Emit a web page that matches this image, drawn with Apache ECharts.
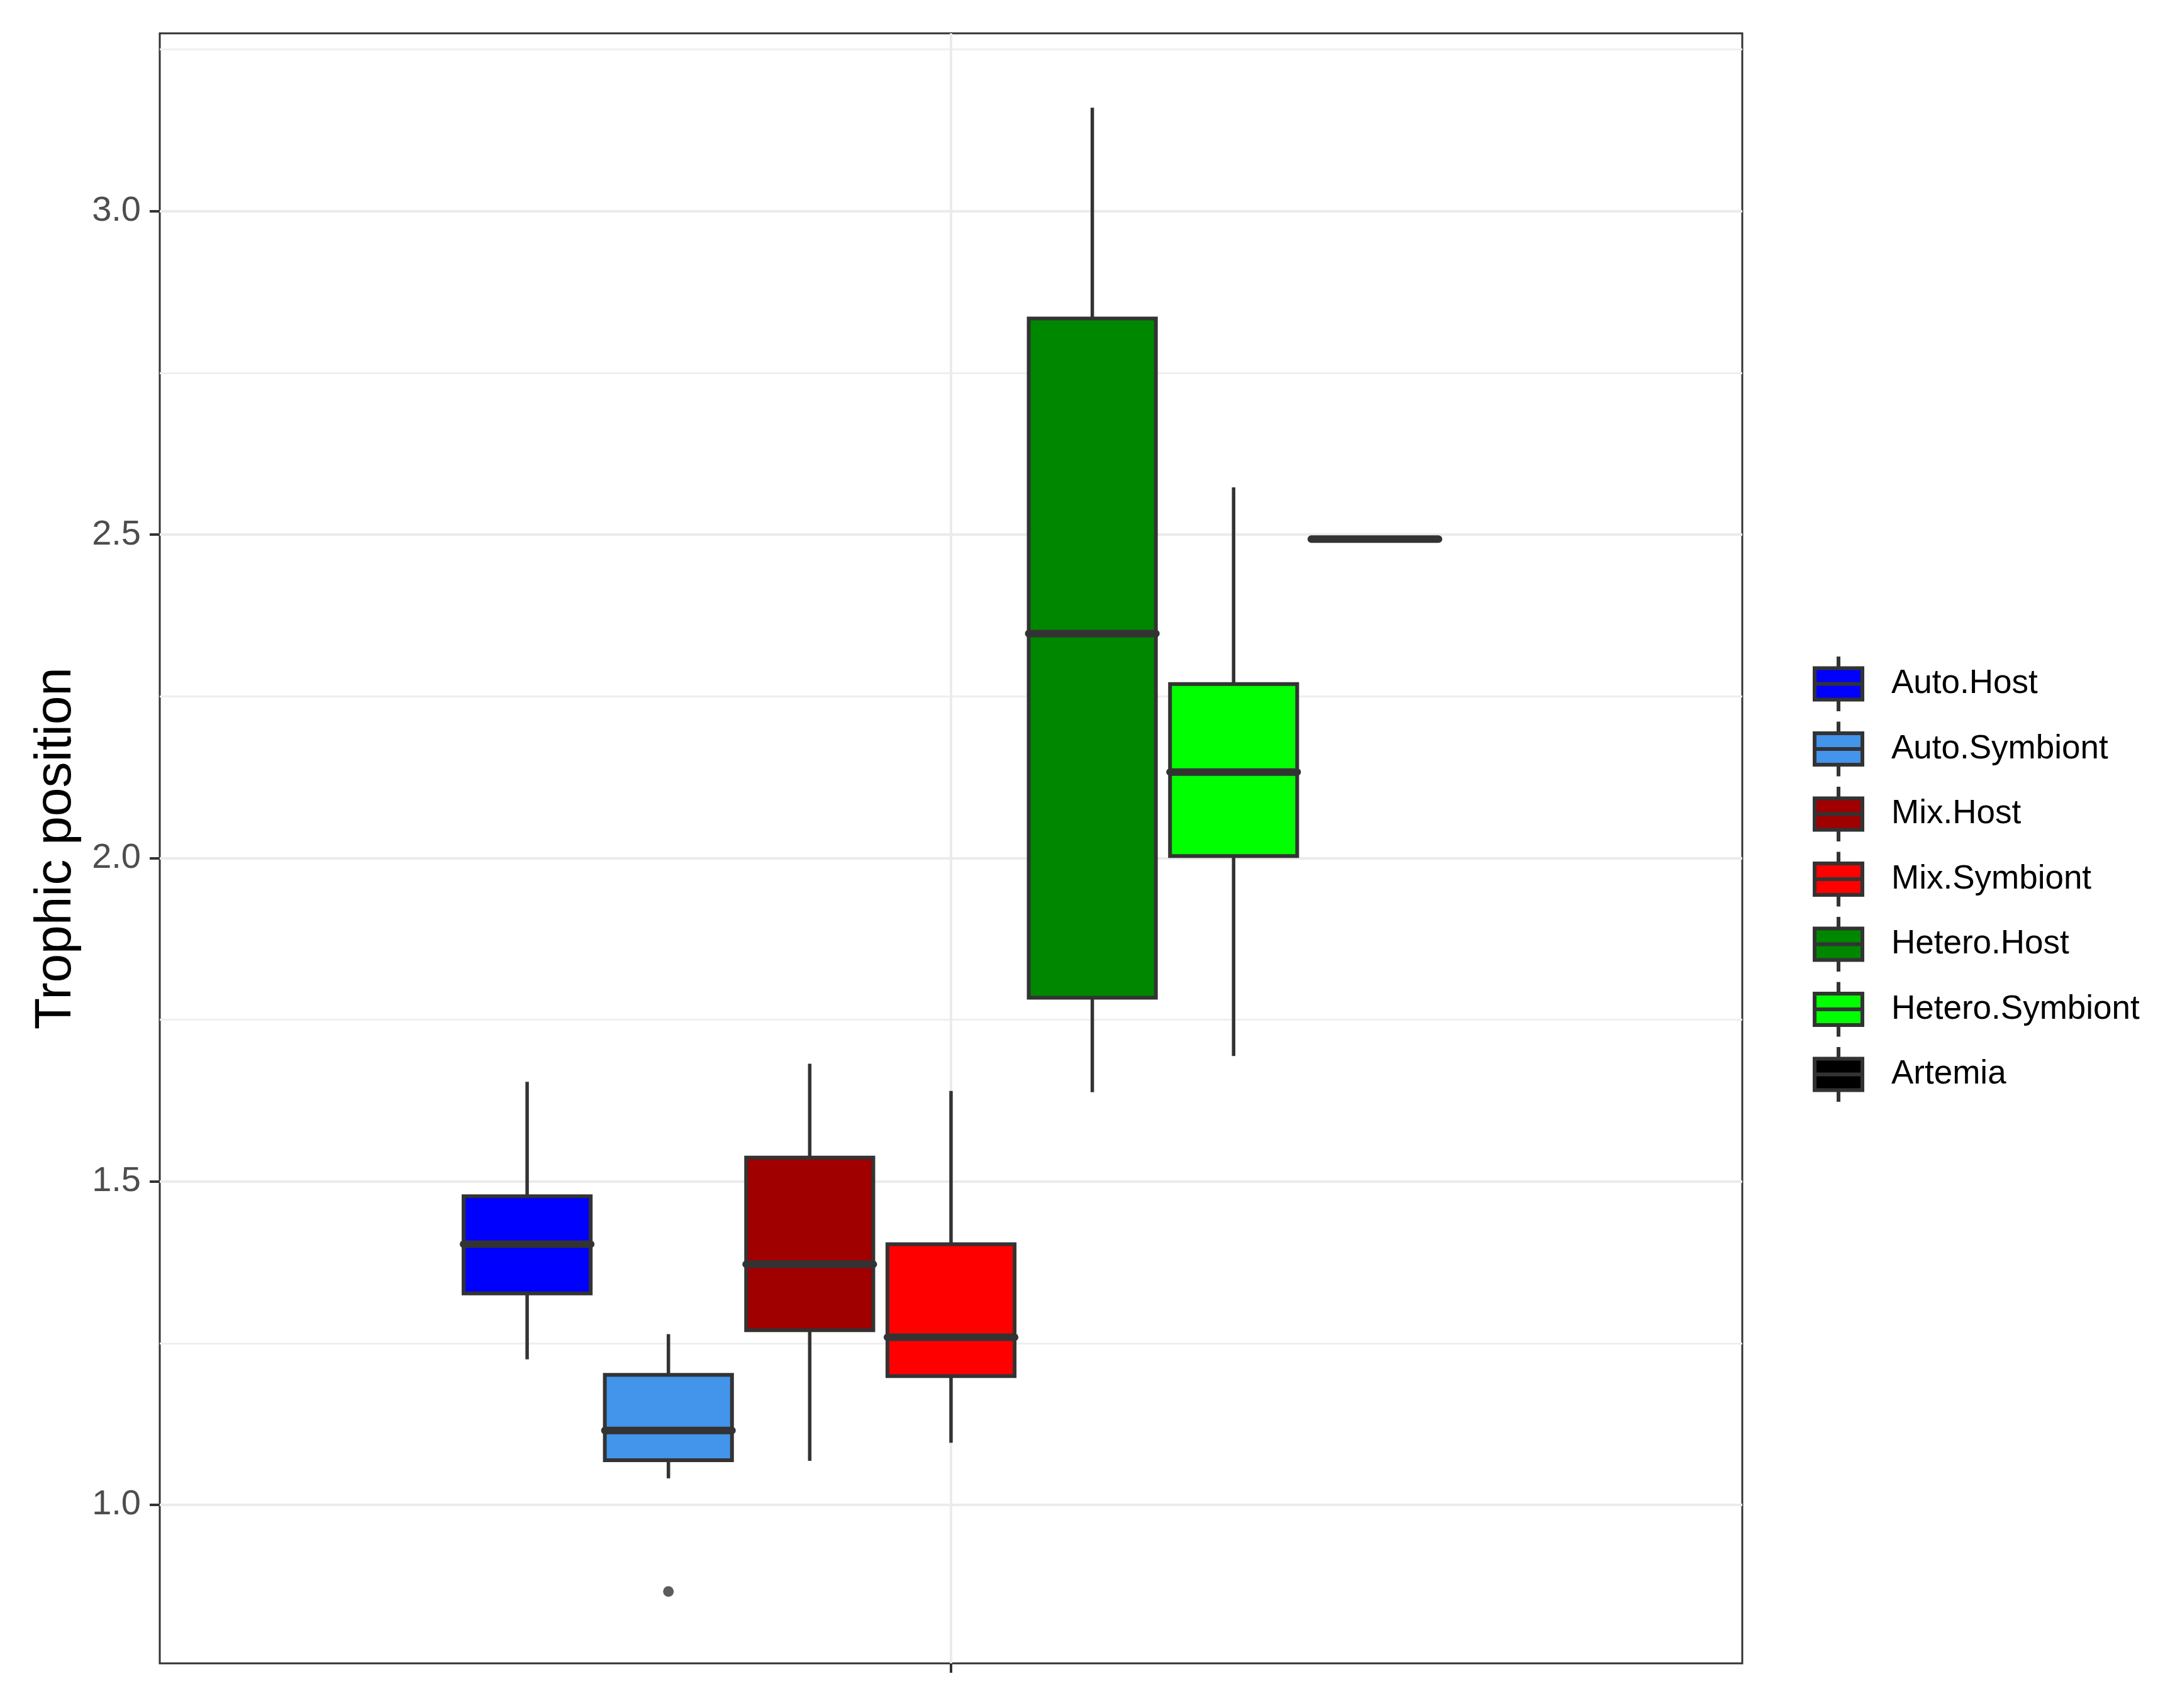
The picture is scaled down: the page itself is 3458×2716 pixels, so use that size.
<!DOCTYPE html>
<html><head><meta charset="utf-8">
<script src="https://cdn.jsdelivr.net/npm/echarts@6/dist/echarts.min.js"></script>
<style>html,body{margin:0;padding:0;background:#fff}#c{width:3458px;height:2716px}</style>
</head><body><div id="c"></div>
<script>
const groups = ['Auto.Host','Auto.Symbiont','Mix.Host','Mix.Symbiont','Hetero.Host','Hetero.Symbiont','Artemia'];
const fills = ['#0000FF','#4394EB','#A00000','#FF0000','#008700','#00FF00','#000000'];
const whiskerLow  = [1.225, 1.041, 1.068, 1.096, 1.638, 1.694, 2.493];
const q1          = [1.327, 1.069, 1.270, 1.199, 1.784, 2.003, 2.493];
const median      = [1.403, 1.115, 1.372, 1.259, 2.347, 2.133, 2.493];
const q3          = [1.477, 1.201, 1.537, 1.403, 2.834, 2.269, 2.493];
const whiskerHigh = [1.654, 1.264, 1.682, 1.640, 3.160, 2.573, 2.493];
const outlierGroup = [1];
const outlierValue = [0.866];
const yTicks = [1.0, 1.5, 2.0, 2.5, 3.0];
const yMinor = [1.25, 1.75, 2.25, 2.75, 3.25];

const FONT = "'Liberation Sans', Arial, sans-serif";
const n = groups.length;
const dodgeWidth = 0.75;
const slot = dodgeWidth / n;
const halfBox = slot * 0.9 / 2;
function xCenter(i) { return 1 + (i - (n - 1) / 2) * slot; }

function renderBox(params, api) {
  const x = api.value(0);
  const lo = api.value(1), a = api.value(2), m = api.value(3), b = api.value(4), hi = api.value(5);
  const pLo = api.coord([x, lo]), pA = api.coord([x, a]), pB = api.coord([x, b]), pHi = api.coord([x, hi]);
  const left = api.coord([x - halfBox, m]), right = api.coord([x + halfBox, m]);
  const color = api.visual('color');
  const stroke = '#333333';
  return {
    type: 'group',
    children: [
      { type: 'line', shape: { x1: pB[0], y1: pB[1], x2: pHi[0], y2: pHi[1] }, style: { stroke, lineWidth: 5.5 } },
      { type: 'line', shape: { x1: pA[0], y1: pA[1], x2: pLo[0], y2: pLo[1] }, style: { stroke, lineWidth: 5.5 } },
      { type: 'rect', shape: { x: left[0], y: pB[1], width: right[0] - left[0], height: pA[1] - pB[1] },
        style: { fill: color, stroke, lineWidth: 6 } },
      { type: 'line', shape: { x1: left[0], y1: left[1], x2: right[0], y2: right[1] },
        style: { stroke, lineWidth: 12, lineCap: 'round' } }
    ]
  };
}

const series = groups.map((g, i) => ({
  name: g,
  type: 'custom',
  renderItem: renderBox,
  itemStyle: { color: fills[i] },
  encode: { x: 0, y: [1, 2, 3, 4, 5] },
  data: [[xCenter(i), whiskerLow[i], q1[i], median[i], q3[i], whiskerHigh[i]]],
  z: 3
}));
series.push({
  name: 'outliers',
  type: 'scatter',
  symbol: 'circle',
  symbolSize: 17,
  itemStyle: { color: '#333333' },
  data: outlierGroup.map((g, k) => [xCenter(g), outlierValue[k]]),
  z: 4
});

const chart = echarts.init(document.getElementById('c'), null, { renderer: 'canvas' });
chart.setOption({
  animation: false,
  backgroundColor: '#ffffff',
  grid: { left: 254, top: 53, width: 2516, height: 2592, show: true, borderColor: '#333333', borderWidth: 3, backgroundColor: 'transparent' },
  xAxis: {
    type: 'value', min: 0.4, max: 1.6,
    axisLine: { show: false },
    axisTick: { show: true, customValues: [1], length: 15, lineStyle: { color: '#333333', width: 4 } },
    axisLabel: { show: false },
    splitLine: { show: true, lineStyle: { color: '#EBEBEB', width: 4 } }
  },
  yAxis: [{
    type: 'value', min: 0.755, max: 3.275,
    name: 'Trophic position', nameLocation: 'middle', nameGap: 124, nameRotate: 90,
    nameTextStyle: { fontSize: 82, color: '#000000', fontFamily: FONT },
    axisLine: { show: false },
    axisTick: { show: true, customValues: yTicks, length: 16, lineStyle: { color: '#333333', width: 4 } },
    axisLabel: { show: true, customValues: yTicks, margin: 30, fontSize: 56, color: '#4D4D4D', fontFamily: FONT,
      formatter: v => Number(v).toFixed(1) },
    splitLine: { show: true, lineStyle: { color: '#EBEBEB', width: 4 } }
  }, {
    type: 'value', min: 0.755, max: 3.275, position: 'left',
    axisLine: { show: false },
    axisTick: { show: false, customValues: yMinor },
    axisLabel: { show: false, customValues: yMinor },
    splitLine: { show: true, lineStyle: { color: '#EFEFEF', width: 3 } }
  }],
  legend: {
    orient: 'vertical', left: 2882, top: 1041, padding: 0,
    itemWidth: 76, itemHeight: 87, itemGap: 10.5,
    icon: 'path://M38,0L38,18.5M0,18.5L76,18.5L76,68.5L0,68.5ZM0,43.5L76,43.5M38,68.5L38,87',
    itemStyle: { borderColor: '#333333', borderWidth: 6 },
    textStyle: { fontSize: 53, color: '#000000', fontFamily: FONT, padding: [0, 0, 0, 41] },
    data: groups
  },
  series: series
});
</script>
</body></html>
